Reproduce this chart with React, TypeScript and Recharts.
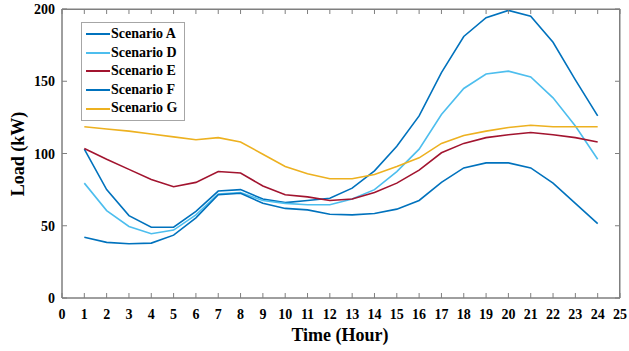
import { LineChart, Line, XAxis, YAxis, ReferenceArea } from "recharts";

const hours = [1, 2, 3, 4, 5, 6, 7, 8, 9, 10, 11, 12, 13, 14, 15, 16, 17, 18, 19, 20, 21, 22, 23, 24];
const scenarioA = [103, 75, 57, 49, 49, 60, 74, 75, 68.5, 66, 67.5, 69, 76, 88, 105, 126, 156, 181, 194, 199, 195, 177, 151, 126];
const scenarioD = [79.5, 60.5, 49.5, 44.5, 47, 57.5, 72, 73, 67.5, 65.5, 64.5, 64.5, 68.5, 75, 87.5, 103, 127, 145, 155, 157, 153, 138.5, 119, 96];
const scenarioE = [103.5, 96, 89, 82, 77, 80, 87.5, 86.5, 77.5, 71.5, 70, 67.5, 68.5, 73, 79.5, 88.5, 100.5, 107, 111, 113, 114.5, 113, 111, 108];
const scenarioF = [42, 38.5, 37.5, 38, 43.5, 55.5, 71.5, 72.5, 65.5, 62, 61, 58, 57.5, 58.5, 61.5, 67.5, 80, 90, 93.5, 93.5, 90, 79.5, 65.5, 51.5];
const scenarioG = [118.5, 117, 115.5, 113.5, 111.5, 109.5, 111, 108, 99.5, 91, 86, 82.5, 82.5, 85.5, 91, 97, 107, 112.5, 115.5, 118, 119.5, 118.5, 118.5, 118.5];
const xTicks = [0, 1, 2, 3, 4, 5, 6, 7, 8, 9, 10, 11, 12, 13, 14, 15, 16, 17, 18, 19, 20, 21, 22, 23, 24, 25];
const yTicks = [0, 50, 100, 150, 200];

const series = [
  { key: "A", name: "Scenario A", color: "#0072BD" },
  { key: "D", name: "Scenario D", color: "#4DBEEE" },
  { key: "E", name: "Scenario E", color: "#A2142F" },
  { key: "F", name: "Scenario F", color: "#0072BD" },
  { key: "G", name: "Scenario G", color: "#EDB120" },
];

const data = hours.map((h, i) => ({
  hour: h,
  A: scenarioA[i],
  D: scenarioD[i],
  E: scenarioE[i],
  F: scenarioF[i],
  G: scenarioG[i],
}));

const W = 629;
const H = 351;
const TOP = 9;
const BOTTOM = 298;
const LEFT = 62;
const RIGHT = 620;
const FONT = "'Liberation Serif', 'Times New Roman', serif";
const BOX = "#7f7f7f";

// frame + inward tick marks, drawn once from the tick positions
const XTick = (props: any) => {
  const { x, payload } = props;
  return (
    <g>
      <line x1={x} y1={BOTTOM} x2={x} y2={BOTTOM - 5} style={{ stroke: BOX, strokeWidth: 1 }} />
      <line x1={x} y1={TOP} x2={x} y2={TOP + 5} style={{ stroke: BOX, strokeWidth: 1 }} />
      <text x={x} y={BOTTOM + 21} textAnchor="middle" fontFamily={FONT} fontWeight="bold" fontSize={14} fill="#000">
        {payload.value}
      </text>
    </g>
  );
};

const YTick = (props: any) => {
  const { y, payload } = props;
  return (
    <g>
      <line x1={LEFT} y1={y} x2={LEFT + 5} y2={y} style={{ stroke: BOX, strokeWidth: 1 }} />
      <line x1={RIGHT} y1={y} x2={RIGHT - 5} y2={y} style={{ stroke: BOX, strokeWidth: 1 }} />
      <text x={LEFT - 7} y={y + 5} textAnchor="end" fontFamily={FONT} fontWeight="bold" fontSize={14} fill="#000">
        {payload.value}
      </text>
    </g>
  );
};

const LegendBox = () => (
  <div
    style={{
      position: "absolute",
      left: 81,
      top: 22,
      border: "1px solid #a6a6a6",
      background: "#fff",
      padding: "2px 6px 2px 4px",
      fontFamily: FONT,
      fontWeight: "bold",
      fontSize: 14,
      lineHeight: "18.6px",
    }}
  >
    {series.map((s) => (
      <div key={s.key} style={{ display: "flex", alignItems: "center" }}>
        <span style={{ display: "inline-block", width: 24, height: 2, background: s.color, marginRight: 1 }} />
        <span>{s.name}</span>
      </div>
    ))}
  </div>
);

export default function App() {
  return (
    <div style={{ position: "absolute", left: 0, top: 0, width: W, height: H }}>
      <LineChart width={W} height={H} data={data} margin={{ top: TOP, right: W - RIGHT, left: 0, bottom: 0 }}>
        <XAxis
          dataKey="hour"
          type="number"
          domain={[0, 25]}
          ticks={xTicks}
          interval={0}
          height={H - BOTTOM}
          tickLine={false}
          axisLine={{ stroke: BOX }}
          tick={<XTick />}
        />
        <YAxis
          domain={[0, 200]}
          ticks={yTicks}
          width={LEFT}
          tickLine={false}
          axisLine={{ stroke: BOX }}
          tick={<YTick />}
        />
        <ReferenceArea x1={0} x2={25} y1={0} y2={200} fill="none" stroke={BOX} strokeWidth={1} ifOverflow="visible" />
        {series.map((s) => (
          <Line
            key={s.key}
            dataKey={s.key}
            name={s.name}
            stroke={s.color}
            strokeWidth={1.6}
            dot={false}
            isAnimationActive={false}
          />
        ))}
        <text x={340} y={341} textAnchor="middle" fontFamily={FONT} fontWeight="bold" fontSize={18} fill="#000">
          Time (Hour)
        </text>
        <text
          x={24}
          y={154}
          textAnchor="middle"
          transform="rotate(-90 24 154)"
          fontFamily={FONT}
          fontWeight="bold"
          fontSize={18}
          fill="#000"
        >
          Load (kW)
        </text>
      </LineChart>
      <LegendBox />
      <div
        style={{
          position: "absolute",
          left: LEFT,
          top: TOP,
          width: RIGHT - LEFT,
          height: BOTTOM - TOP,
          boxSizing: "border-box",
          borderTop: `1px solid ${BOX}`,
          borderRight: `1px solid ${BOX}`,
          pointerEvents: "none",
        }}
      />
    </div>
  );
}
